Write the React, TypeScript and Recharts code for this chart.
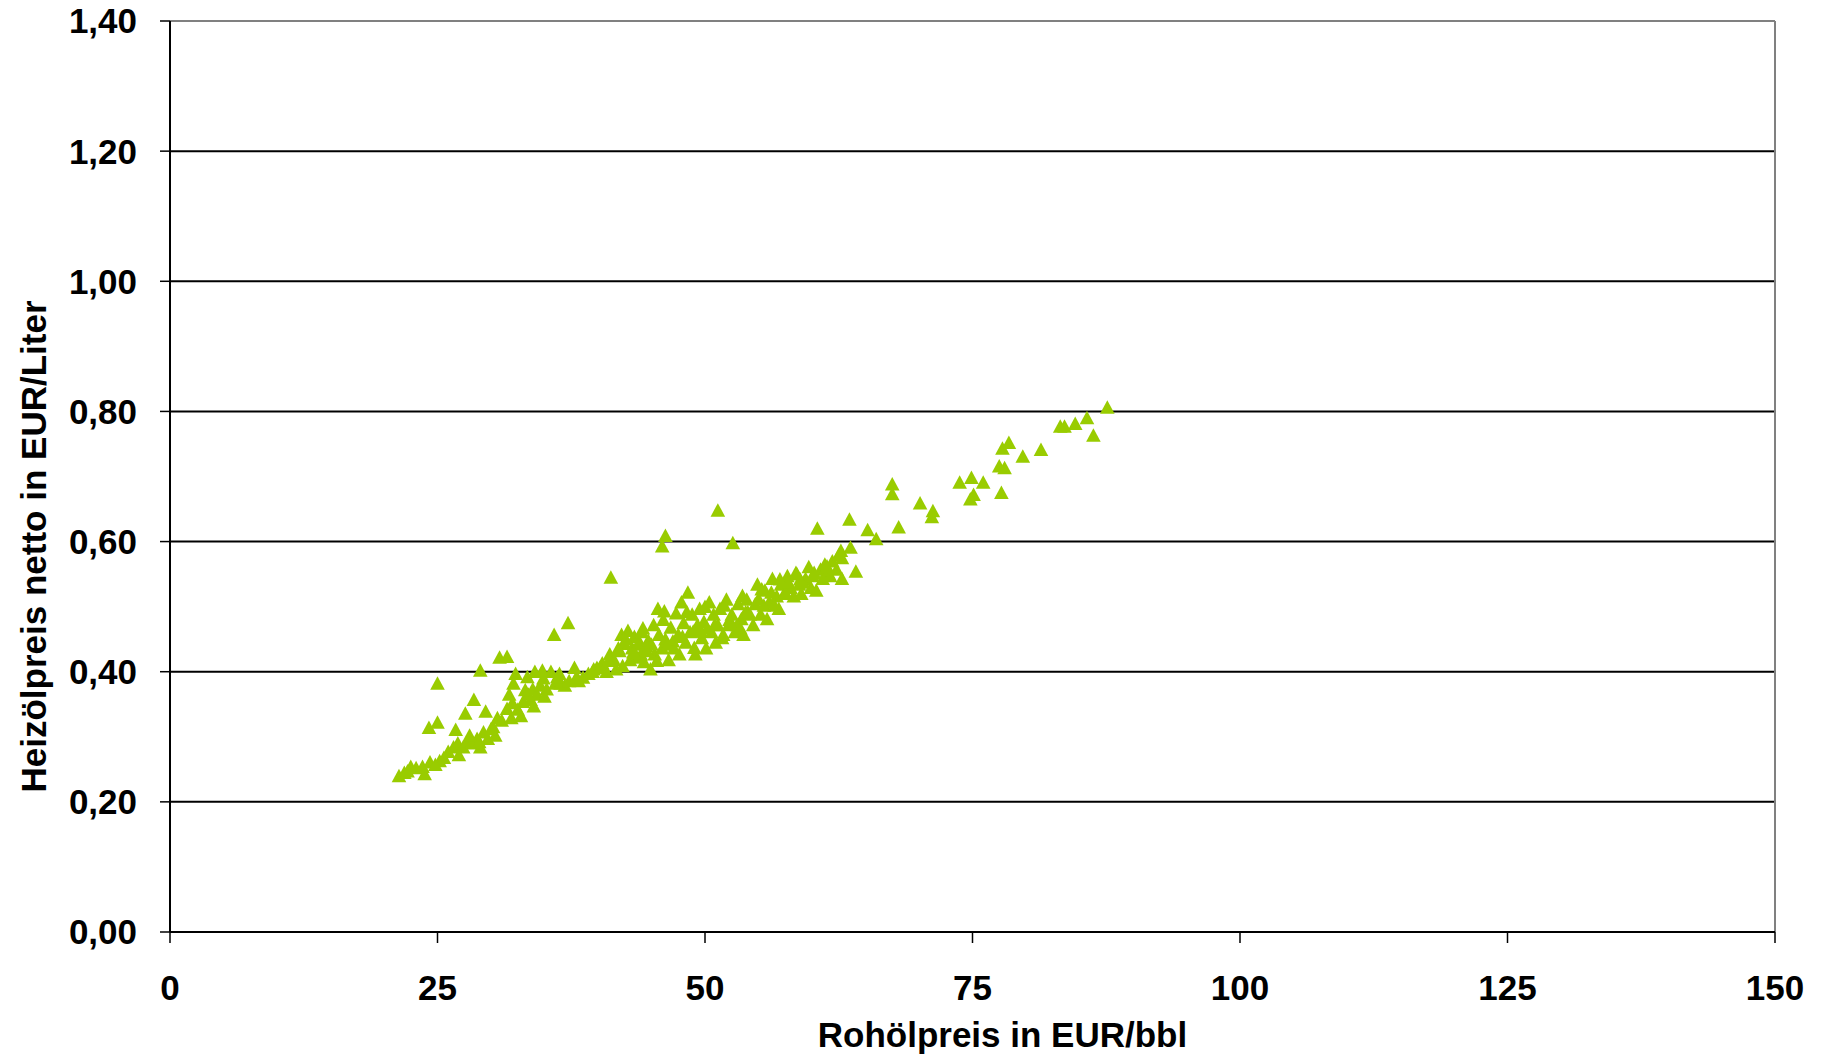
import React from "react";
import {
  ScatterChart,
  Scatter,
  XAxis,
  YAxis,
  ReferenceLine,
  Label,
} from "recharts";

// Rohölpreis (EUR/bbl) and Heizölpreis netto (EUR/Liter)
const crudePrice = [
  87.6, 86.3, 85.7, 84.6, 83.6, 83.2, 81.4, 79.7, 78.4, 77.8, 78.0, 77.5, 77.7, 76.0, 74.9, 73.8, 75.1, 74.8,
  71.3, 71.2, 70.1, 68.1, 67.5, 67.5, 66.0, 65.2, 63.5, 64.1, 63.6, 62.8, 62.8, 60.5, 51.2, 52.6, 46.3, 46.0,
  41.2, 37.2, 35.9, 31.5, 30.8, 29.0, 25.0, 25.0, 24.2, 28.4, 27.6, 29.5, 26.7,
  21.4, 21.9, 22.5, 23.0, 23.6, 23.8, 24.3, 25.2, 25.6, 26.0, 26.5, 26.9, 27.4, 27.8, 28.2, 28.7, 29.0, 29.3,
  29.7, 30.2, 30.6, 31.0, 31.5, 31.7, 31.9, 32.1, 32.3, 32.8, 33.0, 33.2, 33.5, 33.9, 34.1, 34.3, 34.6, 34.9,
  35.2, 35.6, 36.0, 36.5, 36.9, 37.3, 37.8, 38.2, 38.6, 39.1, 39.5, 39.9, 40.4, 40.8, 41.1, 41.5, 41.7, 41.9,
  42.2, 42.3, 42.5, 42.8, 43.0, 43.2, 43.4, 43.6, 43.9, 44.1, 44.3, 44.5, 44.7, 44.9, 45.2, 45.3, 45.6, 45.7,
  46.0, 46.2, 46.3, 46.6, 46.8, 47.1, 47.3, 47.5, 47.8, 48.0, 48.2, 48.4, 48.6, 48.8, 49.1, 49.3, 49.5, 49.7,
  49.9, 50.1, 50.4, 50.6, 50.8, 51.0, 51.2, 51.4, 51.7, 52.0, 52.2, 52.5, 52.8, 53.1, 53.4, 53.6, 53.9, 54.2,
  54.5, 54.7, 54.9, 55.2, 55.6, 55.8, 56.0, 56.3, 56.7, 56.9, 57.1, 57.4, 57.7, 58.0, 58.3, 58.5, 58.8, 59.0,
  59.4, 59.7, 59.9, 60.1, 60.4, 60.8, 61.0, 61.2, 61.5, 61.9, 62.3, 62.5, 62.7,
  22.2, 24.8, 27.0, 28.0, 30.4, 32.5, 33.7, 34.0, 35.0, 36.2, 38.0, 39.6, 40.2, 41.0, 42.0, 43.7, 44.0,
  45.0, 47.0, 48.9, 50.2, 53.0, 54.0, 55.5, 57.5, 59.2, 61.7, 45.5, 47.6, 49.0, 51.6, 53.3, 56.5,
  43.3, 44.6, 46.5, 47.9, 49.6, 50.9, 52.3, 53.8, 55.0, 56.2, 57.8, 58.9, 60.2, 61.4,
  42.6, 44.2, 46.1, 48.3, 50.0, 51.8, 53.5, 55.3, 57.0, 58.6, 32.0, 33.4, 34.8, 36.4, 28.9, 30.0,
];

const heatingOilPrice = [
  0.804, 0.761, 0.788, 0.779, 0.775, 0.775, 0.739, 0.729, 0.75, 0.741, 0.711, 0.714, 0.673, 0.689, 0.696, 0.689, 0.67, 0.663,
  0.645, 0.636, 0.657, 0.62, 0.686, 0.671, 0.602, 0.616, 0.632, 0.552, 0.589, 0.573, 0.541, 0.618, 0.646, 0.596, 0.607, 0.591,
  0.543, 0.473, 0.455, 0.421, 0.42, 0.4, 0.38, 0.32, 0.312, 0.355, 0.334, 0.337, 0.309,
  0.238, 0.243, 0.252, 0.25, 0.252, 0.241, 0.259, 0.261, 0.266, 0.275, 0.282, 0.288, 0.282, 0.291, 0.288, 0.295, 0.282, 0.305,
  0.295, 0.313, 0.327, 0.323, 0.341, 0.363, 0.327, 0.38, 0.395, 0.33, 0.352, 0.37, 0.363, 0.371, 0.398, 0.363, 0.377, 0.388,
  0.371, 0.398, 0.38, 0.38, 0.377, 0.384, 0.404, 0.384, 0.389, 0.395, 0.398, 0.404, 0.411, 0.398, 0.425, 0.416, 0.402, 0.434,
  0.455, 0.407, 0.441, 0.461, 0.416, 0.434, 0.452, 0.42, 0.443, 0.459, 0.413, 0.438, 0.446, 0.402, 0.47, 0.425, 0.495, 0.455,
  0.434, 0.491, 0.448, 0.416, 0.466, 0.434, 0.488, 0.455, 0.505, 0.473, 0.443, 0.52, 0.459, 0.486, 0.425, 0.47, 0.495, 0.45,
  0.475, 0.434, 0.505, 0.459, 0.486, 0.443, 0.47, 0.495, 0.455, 0.509, 0.47, 0.486, 0.459, 0.502, 0.479, 0.455, 0.509, 0.486,
  0.47, 0.502, 0.532, 0.486, 0.523, 0.479, 0.505, 0.541, 0.514, 0.495, 0.532, 0.518, 0.545, 0.527, 0.514, 0.55, 0.532, 0.518,
  0.541, 0.559, 0.527, 0.545, 0.523, 0.555, 0.541, 0.563, 0.55, 0.568, 0.555, 0.577, 0.584,
  0.245, 0.255, 0.27, 0.3, 0.3, 0.34, 0.355, 0.345, 0.36, 0.39, 0.39, 0.402, 0.405, 0.415, 0.43, 0.44, 0.425,
  0.44, 0.445, 0.46, 0.465, 0.47, 0.49, 0.5, 0.52, 0.535, 0.545, 0.415, 0.425, 0.435, 0.45, 0.465, 0.5,
  0.428, 0.43, 0.44, 0.452, 0.46, 0.47, 0.478, 0.49, 0.51, 0.52, 0.535, 0.54, 0.55, 0.56,
  0.448, 0.465, 0.478, 0.49, 0.498, 0.5, 0.515, 0.525, 0.54, 0.548, 0.35, 0.39, 0.4, 0.395, 0.29, 0.31,
];

const xTicks = [0, 25, 50, 75, 100, 125, 150];
const yTicks = [0, 0.2, 0.4, 0.6, 0.8, 1.0, 1.2, 1.4];
const gridValues = [0.2, 0.4, 0.6, 0.8, 1.0, 1.2];

const points = crudePrice.map((x, i) => ({ x, y: heatingOilPrice[i] }));

const FONT = "'Liberation Sans', Arial, sans-serif";
const tickStyle = { fill: "#000", fontSize: 35, fontWeight: 700, fontFamily: FONT };

const fmtY = (v: number) => v.toFixed(2).replace(".", ",");

// excel-style triangle marker, centred on the point the scale gives
const Triangle = ({ cx, cy }: any) => (
  <polygon
    points={`${cx},${cy - 8.5} ${cx - 7.3},${cy + 5} ${cx + 7.3},${cy + 5}`}
    fill="#99CC00"
  />
);

export default function App() {
  return (
    <div style={{ position: "absolute", left: 0, top: 0, background: "#fff" }}>
      <ScatterChart width={1821} height={1056} margin={{ top: 21, right: 46, bottom: 44, left: 0 }}>
        <XAxis
          type="number"
          dataKey="x"
          domain={[0, 150]}
          ticks={xTicks}
          interval={0}
          height={80}
          tick={tickStyle}
          tickSize={11}
          tickMargin={32}
          axisLine={{ stroke: "#000", strokeWidth: 2 }}
          tickLine={{ stroke: "#000", strokeWidth: 1.5 }}
        >
          <Label
            content={({ viewBox }: any) => (
              <text
                x={viewBox.x + viewBox.width / 2 + 30}
                y={viewBox.y + 102}
                textAnchor="middle"
                dominantBaseline="central"
                style={{ fontSize: 35, fontWeight: 700, fontFamily: FONT, fill: "#000" }}
              >
                Rohölpreis in EUR/bbl
              </text>
            )}
          />
        </XAxis>
        <YAxis
          type="number"
          dataKey="y"
          domain={[0, 1.4]}
          ticks={yTicks}
          interval={0}
          width={170}
          tick={tickStyle}
          tickFormatter={fmtY}
          tickSize={10}
          tickMargin={23}
          axisLine={{ stroke: "#000", strokeWidth: 2 }}
          tickLine={{ stroke: "#000", strokeWidth: 1.5 }}
        >
          <Label
            content={({ viewBox }: any) => {
              const cx = viewBox.x + 33;
              const cy = viewBox.y + viewBox.height / 2 + 70;
              return (
                <text
                  x={cx}
                  y={cy}
                  transform={`rotate(-90 ${cx} ${cy})`}
                  textAnchor="middle"
                  dominantBaseline="central"
                  style={{ fontSize: 35, fontWeight: 700, fontFamily: FONT, fill: "#000" }}
                >
                  Heizölpreis netto in EUR/Liter
                </text>
              );
            }}
          />
        </YAxis>
        {gridValues.map((v) => (
          <ReferenceLine key={v} y={v} stroke="#000" strokeWidth={2} />
        ))}
        <ReferenceLine y={1.4} stroke="#808080" strokeWidth={2} />
        <ReferenceLine x={150} stroke="#808080" strokeWidth={2} />
        <Scatter data={points} fill="#99CC00" shape={<Triangle />} isAnimationActive={false} />
      </ScatterChart>
    </div>
  );
}
